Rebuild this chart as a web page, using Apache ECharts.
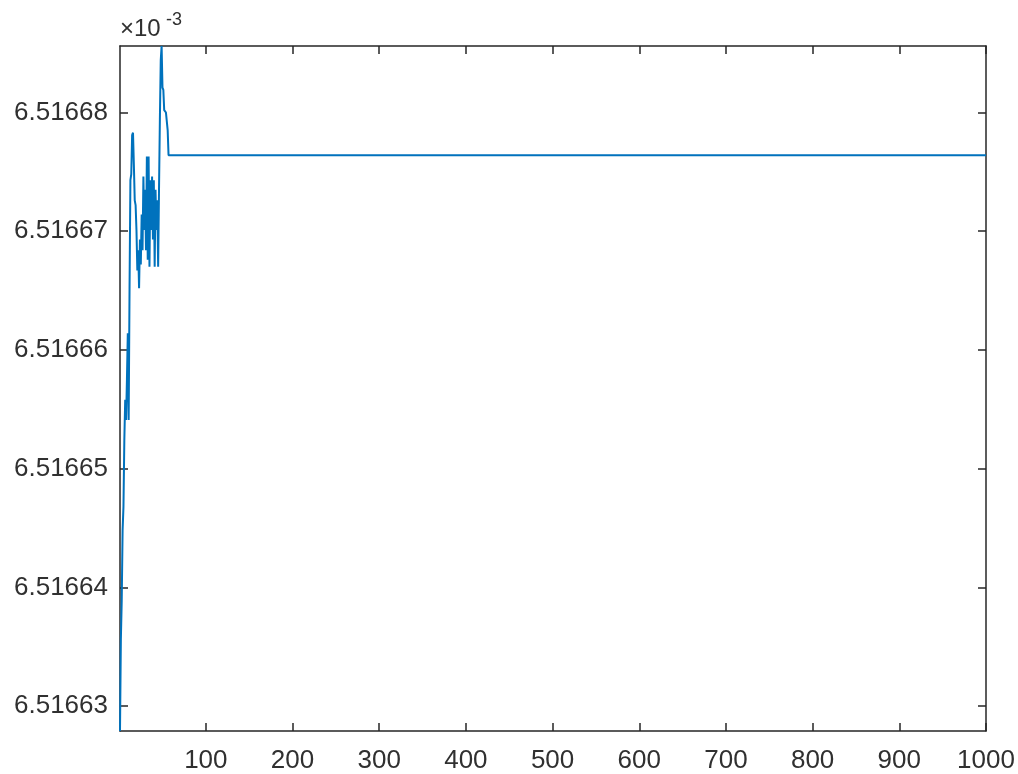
<!DOCTYPE html>
<html>
<head>
<meta charset="utf-8">
<script src="https://cdn.jsdelivr.net/npm/echarts@6/dist/echarts.min.js"></script>
<style>
html,body{margin:0;padding:0;background:#fff;}
#chart{width:1018px;height:774px;}
</style>
</head>
<body>
<div id="chart"></div>
<script>
// x positions of samples (iteration index); after x=57 the curve stays flat up to 1000
const xValues = [1,2,3,4,5,6,7,8,9,10,11,12,13,14,15,16,17,18,19,20,
  21,22,23,24,25,26,27,28,29,30,31,32,33,34,35,36,37,38,39,40,
  41,42,43,44,45,46,47,48,49,50,51,52,53,54,55,56,57,1000];
// values shown in units of 1e-3
const yValues = [6.5166279,6.5166356,6.5166389,6.5166448,6.5166468,6.5166524,6.5166558,6.5166541,6.5166575,6.5166614,
  6.5166541,6.5166651,6.5166743,6.5166748,6.5166781,6.5166783,6.5166756,6.5166726,6.5166722,6.5166701,
  6.5166667,6.5166684,6.5166652,6.5166693,6.5166672,6.5166714,6.5166684,6.5166746,6.5166701,6.5166735,
  6.5166684,6.5166763,6.5166676,6.5166763,6.5166670,6.5166743,6.5166701,6.5166746,6.5166693,6.5166743,
  6.5166670,6.5166735,6.5166701,6.5166726,6.5166670,6.5166735,6.5166794,6.5166844,6.5166856,6.5166821,
  6.5166819,6.5166802,6.5166801,6.5166800,6.5166800,6.5166785,6.5166764,6.5166764];
const xTicks = [100,200,300,400,500,600,700,800,900,1000];
const yTicks = [6.51663,6.51664,6.51665,6.51666,6.51667,6.51668];
const xMin = 1, xMax = 1000;
const yMin = Math.min.apply(null, yValues);
const yMax = Math.max.apply(null, yValues);

const axisColor = '#262626';
const labelColor = '#303030';
const fontFam = '"Liberation Sans", Arial, Helvetica, sans-serif';
const fontSize = 26;

const chart = echarts.init(document.getElementById('chart'), null, {renderer: 'canvas'});

function xAxisDef(pos, showLabels) {
  return {
    type: 'value', position: pos, min: xMin, max: xMax,
    axisLine: {show: true, onZero: false, lineStyle: {color: axisColor, width: 1.5}},
    axisTick: {show: true, inside: true, length: 8, customValues: xTicks, lineStyle: {color: axisColor, width: 1.5}},
    axisLabel: {show: showLabels, customValues: xTicks, color: labelColor, fontSize: fontSize, fontFamily: fontFam, margin: 17,
      formatter: v => String(v)},
    splitLine: {show: false}
  };
}
function yAxisDef(pos, showLabels) {
  return {
    type: 'value', position: pos, min: yMin, max: yMax, scale: true,
    axisLine: {show: true, onZero: false, lineStyle: {color: axisColor, width: 1.5}},
    axisTick: {show: true, inside: true, length: 8, customValues: yTicks, lineStyle: {color: axisColor, width: 1.5}},
    axisLabel: {show: showLabels, customValues: yTicks, color: labelColor, fontSize: fontSize, fontFamily: fontFam, margin: 12,
      formatter: v => Number(v).toFixed(5)},
    splitLine: {show: false}
  };
}

const option = {
  animation: false,
  backgroundColor: '#ffffff',
  grid: {left: 120, right: 32, top: 46, bottom: 43, containLabel: false},
  xAxis: [xAxisDef('bottom', true), xAxisDef('top', false)],
  yAxis: [yAxisDef('left', true), yAxisDef('right', false)],
  graphic: [
    {type: 'text', left: 120, top: 17, style: {text: '\u00d710', font: '24px ' + fontFam, fill: labelColor}},
    {type: 'text', left: 166, top: 11, style: {text: '-3', font: '18px ' + fontFam, fill: labelColor}}
  ],
  series: [{
    type: 'line',
    xAxisIndex: 0, yAxisIndex: 0,
    data: xValues.map((x, i) => [x, yValues[i]]),
    showSymbol: false,
    lineStyle: {color: '#0072BD', width: 2},
    itemStyle: {color: '#0072BD'},
    clip: true
  }]
};
chart.setOption(option);
</script>
</body>
</html>
